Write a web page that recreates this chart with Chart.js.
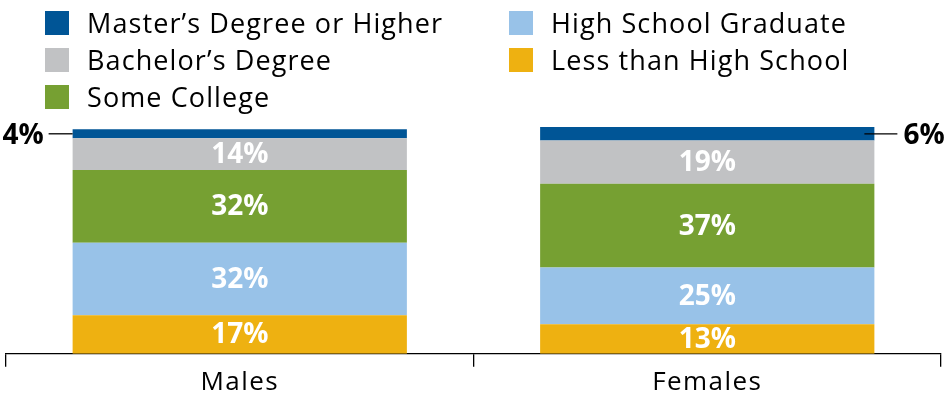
<!DOCTYPE html>
<html>
<head>
<meta charset="utf-8">
<script src="https://cdn.jsdelivr.net/npm/chart.js@4"></script>
<style>
  html, body { margin: 0; padding: 0; background: #fff; }
  #wrap { position: relative; width: 945px; height: 400px; }
  #chart { position: absolute; left: 0; top: 0; }
  #legend { position: absolute; left: 0; top: 0; width: 945px; height: 120px; font-family: "Open Sans", sans-serif; font-size: 27px; letter-spacing: 1.1px; color: #000; }
  .col { position: absolute; top: 4px; }
  .item { height: 37px; display: flex; align-items: center; white-space: nowrap; }
  .sw { width: 24px; height: 24px; margin-right: 18px; flex: none; }
</style>
</head>
<body>
<div id="wrap">
  <canvas id="chart" width="945" height="400"></canvas>
  <div id="legend"></div>
</div>
<script>
const categories = ["Males", "Females"];
const seriesNames = ["Less than High School", "High School Graduate", "Some College", "Bachelor\u2019s Degree", "Master\u2019s Degree or Higher"];
const lessThanHS = [17, 13];
const hsGraduate = [32, 25];
const someCollege = [32, 37];
const bachelors = [14, 19];
const masters = [4, 6];
const seriesColors = ["#eeb111", "#98c2e8", "#76a032", "#c1c2c4", "#005596"];

const seriesValues = [lessThanHS, hsGraduate, someCollege, bachelors, masters];

const FONT = '"Open Sans", sans-serif';

const datasets = seriesNames.map((n, i) => ({
  label: n,
  data: seriesValues[i],
  backgroundColor: seriesColors[i],
  borderWidth: 0,
  barPercentage: 1,
  categoryPercentage: 0.715
}));

const spacingPlugin = {
  id: 'spacing',
  beforeDraw(chart) { chart.ctx.letterSpacing = '1.4px'; },
  afterDraw(chart) { chart.ctx.letterSpacing = '0px'; }
};

const labelPlugin = {
  id: 'segLabels',
  afterDatasetsDraw(chart) {
    const ctx = chart.ctx;
    ctx.save();
    ctx.letterSpacing = '0px';
    ctx.textAlign = 'center';
    ctx.textBaseline = 'middle';
    chart.data.datasets.forEach((ds, di) => {
      const meta = chart.getDatasetMeta(di);
      meta.data.forEach((el, j) => {
        const v = ds.data[j];
        const top = el.y, bot = el.base;
        const cy = (top + bot) / 2;
        ctx.font = 'bold 28px ' + FONT;
        if (v >= 10) {
          ctx.fillStyle = '#ffffff';
          ctx.fillText(v + '%', el.x, cy + 1);
        } else {
          ctx.fillStyle = '#000';
          ctx.strokeStyle = '#000';
          ctx.lineWidth = 1.3;
          const left = el.x - el.width / 2, right = el.x + el.width / 2;
          ctx.beginPath();
          if (j === 0) {
            ctx.moveTo(left, cy); ctx.lineTo(left - 24, cy); ctx.stroke();
            ctx.textAlign = 'right';
            ctx.fillText(v + '%', left - 29, cy + 2);
          } else {
            ctx.moveTo(right - 10, cy); ctx.lineTo(right + 23, cy); ctx.stroke();
            ctx.textAlign = 'left';
            ctx.fillText(v + '%', right + 29, cy + 2);
          }
          ctx.textAlign = 'center';
        }
      });
    });
    ctx.restore();
  }
};

const chart = new Chart(document.getElementById('chart'), {
  type: 'bar',
  data: { labels: categories, datasets },
  options: {
    responsive: false,
    animation: false,
    layout: { padding: { left: 6, right: 4, top: 127, bottom: 2 } },
    plugins: { legend: { display: false }, tooltip: { enabled: false } },
    scales: {
      x: {
        stacked: true,
        offset: true,
        border: { display: true, color: '#000', width: 1.3 },
        grid: { display: true, offset: true, drawOnChartArea: false, drawTicks: true, tickLength: 13, color: '#000', lineWidth: 1.3 },
        ticks: { color: '#000', font: { family: FONT, size: 26 }, padding: 0 }
      },
      y: {
        stacked: true,
        display: false,
        min: 0,
        max: 100
      }
    }
  },
  plugins: [spacingPlugin, labelPlugin]
});

// HTML legend built from datasets (top series first, two columns)
const legend = document.getElementById('legend');
const order = datasets.slice().reverse();
const cols = [order.slice(0, 3), order.slice(3)];
const colLeft = [45, 509];
cols.forEach((items, c) => {
  const col = document.createElement('div');
  col.className = 'col';
  col.style.left = colLeft[c] + 'px';
  items.forEach(ds => {
    const it = document.createElement('div');
    it.className = 'item';
    const sw = document.createElement('span');
    sw.className = 'sw';
    sw.style.background = ds.backgroundColor;
    const tx = document.createElement('span');
    tx.textContent = ds.label;
    it.appendChild(sw); it.appendChild(tx);
    col.appendChild(it);
  });
  legend.appendChild(col);
});
</script>
</body>
</html>
